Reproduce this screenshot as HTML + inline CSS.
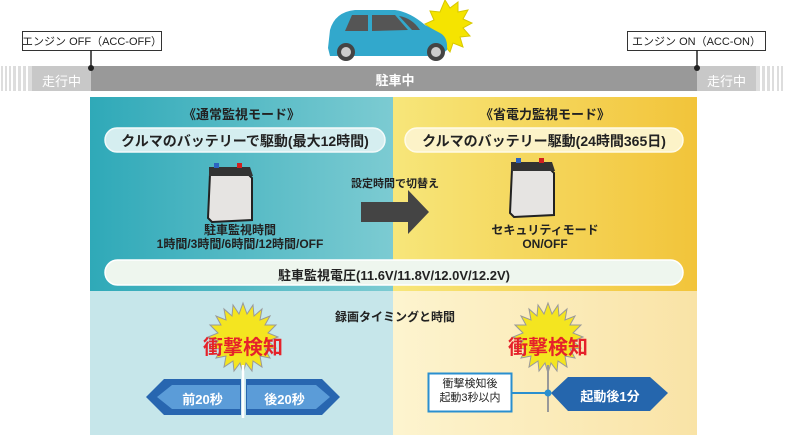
<!DOCTYPE html>
<html><head><meta charset="utf-8"><style>
body{margin:0;width:787px;height:435px;position:relative;overflow:hidden;background:#fff;font-family:"Liberation Sans","Noto Sans CJK JP",sans-serif;}
.a{position:absolute;}
.t{position:absolute;text-align:center;font-weight:bold;color:#222;}
</style></head><body>
<svg class="a" style="left:0;top:0" width="787" height="435">
<defs>
<linearGradient id="tl" x1="0" x2="1"><stop offset="0" stop-color="#2fa9b8"/><stop offset="1" stop-color="#7ccbd2"/></linearGradient>
<linearGradient id="yl" x1="0" x2="1"><stop offset="0" stop-color="#f7e67a"/><stop offset="1" stop-color="#f2c43a"/></linearGradient>
<linearGradient id="by" x1="0" x2="1"><stop offset="0" stop-color="#fdf4cf"/><stop offset="1" stop-color="#f9e3a6"/></linearGradient>
</defs>
<rect x="0" y="66" width="787" height="25" fill="#999"/>
<rect x="0" y="66" width="32" height="25" fill="#fff"/>
<g fill="#ddd"><rect x="1" y="66" width="2" height="25"/><rect x="5" y="66" width="2" height="25"/><rect x="9" y="66" width="2" height="25"/><rect x="13" y="66" width="3" height="25"/><rect x="18" y="66" width="3" height="25"/><rect x="23" y="66" width="3" height="25"/><rect x="28" y="66" width="4" height="25"/></g>
<rect x="32" y="66" width="59" height="25" fill="#c8c8c8"/>
<rect x="697" y="66" width="59" height="25" fill="#c8c8c8"/>
<rect x="756" y="66" width="31" height="25" fill="#fff"/>
<g fill="#ddd"><rect x="756" y="66" width="4" height="25"/><rect x="762" y="66" width="3" height="25"/><rect x="767" y="66" width="3" height="25"/><rect x="772" y="66" width="2" height="25"/><rect x="777" y="66" width="2" height="25"/><rect x="781" y="66" width="2" height="25"/></g>
<rect x="22.5" y="31.5" width="139" height="19" fill="#fff" stroke="#333"/>
<line x1="91" y1="50" x2="91" y2="68" stroke="#222" stroke-width="1.5"/><circle cx="91" cy="68" r="3" fill="#222"/>
<rect x="627.5" y="31.5" width="138" height="19" fill="#fff" stroke="#333"/>
<line x1="697" y1="50" x2="697" y2="68" stroke="#222" stroke-width="1.5"/><circle cx="697" cy="68" r="3" fill="#222"/>
<polygon fill="#f5e400" stroke="#d8c800" points="445,0 450,8 458,2 458,12 468,10 463,19 472,23 463,28 470,36 460,37 463,47 453,43 450,52 444,45 436,50 436,40 428,38 433,30 425,24 434,20 430,11 440,12" />
<path d="M328,48 L330,30 Q335,12 355,10 L395,10 Q410,12 425,25 L440,33 Q448,37 447,50 L440,56 L330,56 Z" fill="#32a8cc"/>
<path d="M352,15 L368,15 L368,31 L345,31 Z M372,15 L395,15 L408,30 L372,31 Z M399,16 L412,30 L420,30 Q412,18 399,16Z" fill="#555"/>
<circle cx="346" cy="52" r="9" fill="#444"/><circle cx="346" cy="52" r="5" fill="#ccc"/>
<circle cx="436" cy="52" r="9" fill="#444"/><circle cx="436" cy="52" r="5" fill="#ccc"/>
<rect x="90" y="97" width="303" height="194" fill="url(#tl)"/>
<rect x="393" y="97" width="304" height="194" fill="url(#yl)"/>
<rect x="90" y="291" width="303" height="144" fill="#c6e6ea"/>
<rect x="393" y="291" width="304" height="144" fill="url(#by)"/>
<rect x="105" y="128" width="280" height="24" rx="12" fill="#d5eef0" stroke="#f3fafa" stroke-width="1.5"/>
<rect x="405" y="128" width="278" height="24" rx="12" fill="#fcf3c8" stroke="#fffbe8" stroke-width="1.5"/>
<rect x="105" y="260" width="578" height="25" rx="12.5" fill="#eef6ee" stroke="#fff" stroke-width="1.5"/>
<g id="bat"><path d="M210,174 L248,174 L252,178 L252,220 L212,222 L208,218 Z" fill="#e6e4e2" stroke="#222" stroke-width="2"/><path d="M209,167 L250,167 L253,176 L209,176 Z" fill="#333"/><rect x="214" y="163" width="5" height="5" fill="#2c63c2"/><rect x="237" y="163" width="5" height="5" fill="#d02020"/></g>
<use href="#bat" x="302" y="-5"/>
<polygon points="361,202 408,202 408,190 429,212 408,234 408,222 361,222" fill="#444"/>
<g id="sun"><polygon fill="#f4e520" stroke="#999" stroke-width="1" points="243,303 247,314 253,305 254,316 262,309 260,320 270,316 265,325 276,325 268,333 278,337 268,341 276,348 265,349 270,358 260,356 262,367 253,361 252,371 246,363 243,373 240,363 234,371 233,361 224,367 226,356 216,358 221,349 210,348 218,341 208,337 218,333 210,325 221,325 216,316 226,320 224,309 232,316 233,305 239,314"/></g>
<use href="#sun" x="305" y="0"/>
<line x1="243" y1="365" x2="243" y2="418" stroke="#fff" stroke-width="2.5"/>
<line x1="548" y1="365" x2="548" y2="412" stroke="#999" stroke-width="2"/>
<polygon points="146,397 164,379 241,379 241,415 164,415" fill="#2866b0"/>
<polygon points="157,397 172,385 240,385 240,409 172,409" fill="#5b9cd8"/>
<polygon points="246,379 322,379 340,397 322,415 246,415" fill="#2866b0"/>
<polygon points="247,385 316,385 330,397 316,409 247,409" fill="#5b9cd8"/>
<polygon points="551,393 568,377 650,377 668,393 650,411 568,411" fill="#2566ad"/>
<rect x="428.5" y="373.5" width="83" height="38" fill="#fff" stroke="#2a8fcf" stroke-width="2"/>
<line x1="512" y1="393" x2="548" y2="393" stroke="#2a8fcf" stroke-width="2"/>
<circle cx="548" cy="393" r="3.5" fill="#2a8fcf"/>
</svg>
<div class="t" style="left:22px;top:33px;width:140px;font-size:11px;font-weight:normal;">エンジン OFF（ACC-OFF）</div>
<div class="t" style="left:627px;top:33px;width:139px;font-size:11px;font-weight:normal;">エンジン ON（ACC-ON）</div>
<div class="t" style="left:32px;top:71px;width:59px;font-size:13px;color:#fff;font-weight:normal;">走行中</div>
<div class="t" style="left:697px;top:71px;width:59px;font-size:13px;color:#fff;font-weight:normal;">走行中</div>
<div class="t" style="left:350px;top:70px;width:90px;font-size:13px;color:#fff;">駐車中</div>
<div class="t" style="left:90px;top:104px;width:303px;font-size:13px;">《通常監視モード》</div>
<div class="t" style="left:393px;top:104px;width:304px;font-size:13px;">《省電力監視モード》</div>
<div class="t" style="left:105px;top:131px;width:280px;font-size:14px;">クルマのバッテリーで駆動(最大12時間)</div>
<div class="t" style="left:405px;top:131px;width:278px;font-size:14px;">クルマのバッテリー駆動(24時間365日)</div>
<div class="t" style="left:330px;top:175px;width:130px;font-size:11px;">設定時間で切替え</div>
<div class="t" style="left:120px;top:223px;width:240px;font-size:12px;line-height:14px;">駐車監視時間<br>1時間/3時間/6時間/12時間/OFF</div>
<div class="t" style="left:470px;top:223px;width:150px;font-size:12px;line-height:14px;">セキュリティモード<br>ON/OFF</div>
<div class="t" style="left:105px;top:265px;width:578px;font-size:13px;">駐車監視電圧(11.6V/11.8V/12.0V/12.2V)</div>
<div class="t" style="left:300px;top:308px;width:190px;font-size:12px;">録画タイミングと時間</div>
<div class="t" style="left:183px;top:331px;width:120px;font-size:20px;color:#e5222a;">衝撃検知</div>
<div class="t" style="left:488px;top:331px;width:120px;font-size:20px;color:#e5222a;">衝撃検知</div>
<div class="t" style="left:165px;top:389px;width:75px;font-size:13px;color:#fff;">前20秒</div>
<div class="t" style="left:247px;top:389px;width:75px;font-size:13px;color:#fff;">後20秒</div>
<div class="t" style="left:565px;top:386px;width:90px;font-size:13px;color:#fff;">起動後1分</div>
<div class="t" style="left:428px;top:377px;width:84px;font-size:11px;line-height:14px;font-weight:normal;">衝撃検知後<br>起動3秒以内</div>
</body></html>
